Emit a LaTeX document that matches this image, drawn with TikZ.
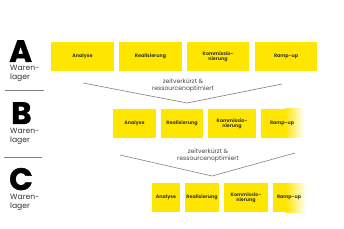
\documentclass[tikz,border=0pt]{standalone}
\usepackage{fontspec}
\setmainfont{Poppins}
\newfontfamily\heavyfont{Poppins}[BoldFeatures={FakeBold=1.3}]
\definecolor{ylw}{RGB}{255,230,0}
\definecolor{boxtxt}{RGB}{60,60,40}
\definecolor{lbltxt}{RGB}{70,70,70}
\definecolor{linegray}{RGB}{130,130,130}
\tikzset{
  stage/.style={fill=ylw, inner sep=0pt, align=center, text=boxtxt,
    font=\fontsize{4.8}{5.4}\selectfont\bfseries},
  fadestage/.style={inner sep=0pt, align=center, text=boxtxt,
    font=\fontsize{4.8}{5.4}\selectfont\bfseries},
  bigletter/.style={inner sep=0pt, anchor=base west, text=black,
    font=\fontsize{31}{31}\selectfont\heavyfont\bfseries},
  warelbl/.style={inner sep=0pt, anchor=north west, align=left, text=black!80,
    font=\fontsize{7.6}{9.5}\selectfont},
  seprule/.style={draw=linegray, line width=0.9pt},
  chevron/.style={draw=linegray, line width=0.6pt},
  gainlbl/.style={inner sep=0pt, align=center, text=lbltxt,
    font=\fontsize{6.1}{7.6}\selectfont},
}
\newcommand{\stagebox}[6]{% name, x1, x2, y1, y2, text
  \node[stage, minimum width=#3pt-#2pt, minimum height=#5pt-#4pt] (#1) at ({(#2+#3)/2},{(#4+#5)/2}) {#6};}
\begin{document}
\begin{tikzpicture}[x=1pt,y=-1pt]
\useasboundingbox (0,0) rectangle (344,229);
\fill[white] (0,0) rectangle (344,229);

% ---- left labels
\node[bigletter] (LA) at (9,62) {A};
\node[warelbl] (WA) at (10,65) {Waren-\\lager};
\coordinate (sa1) at (5,90); \coordinate (sa2) at (44,90);
\draw[seprule] (sa1) -- (sa2);

\node[bigletter] (LB) at (11,124) {B};
\node[warelbl] (WB) at (10,128) {Waren-\\lager};
\coordinate (sb1) at (4,157); \coordinate (sb2) at (42,157);
\draw[seprule] (sb1) -- (sb2);

\node[bigletter] (LC) at (9,190) {C};
\node[warelbl] (WC) at (10,194) {Waren-\\lager};

% ---- row A
\stagebox{A1}{51}{114}{42}{71}{Analyse}
\stagebox{A2}{119}{182}{42}{71}{Realisierung}
\stagebox{A3}{187}{249}{42}{71}{Kommissio-\\nierung}
\stagebox{A4}{255}{317}{42}{71}{Ramp-up}

% ---- chevron 1
\coordinate (c1l) at (83,83);
\coordinate (c1m) at (187,103);
\coordinate (c1r) at (282,84);
\draw[chevron] (c1l) -- (c1m) -- (c1r);
\node[gainlbl] (G1) at (183,85.5) {zeitverkürzt \&\\ressourcenoptimiert};

% ---- row B
\fill[ylw] (261,109) rectangle (285,138);
\shade[left color=ylw, right color=white] (284.8,109) rectangle (304,138);
\stagebox{B1}{113}{156}{109}{138}{Analyse}
\stagebox{B2}{161}{203}{109}{138}{Realisierung}
\stagebox{B3}{208}{256}{109}{138}{Kommissio-\\nierung}
\node[fadestage, minimum width=42pt, minimum height=29pt] (B4) at (282,123.5) {Ramp-up};

% ---- chevron 2
\coordinate (c2l) at (120,155);
\coordinate (c2m) at (212,176);
\coordinate (c2r) at (295,153);
\draw[chevron] (c2l) -- (c2m) -- (c2r);
\node[gainlbl] (G2) at (208,155.5) {zeitverkürzt \&\\ressourcenoptimiert};

% ---- row C
\fill[ylw] (273,183) rectangle (286,212);
\shade[left color=ylw, right color=white] (285.8,183) rectangle (306,212);
\stagebox{C1}{152}{180}{183}{212}{Analyse}
\stagebox{C2}{185}{219}{183}{212}{Realisierung}
\stagebox{C3}{224}{268}{183}{212}{Kommissio-\\nierung}
\node[fadestage, minimum width=32pt, minimum height=29pt] (C4) at (289,197.5) {Ramp-up};
\end{tikzpicture}
\end{document}
